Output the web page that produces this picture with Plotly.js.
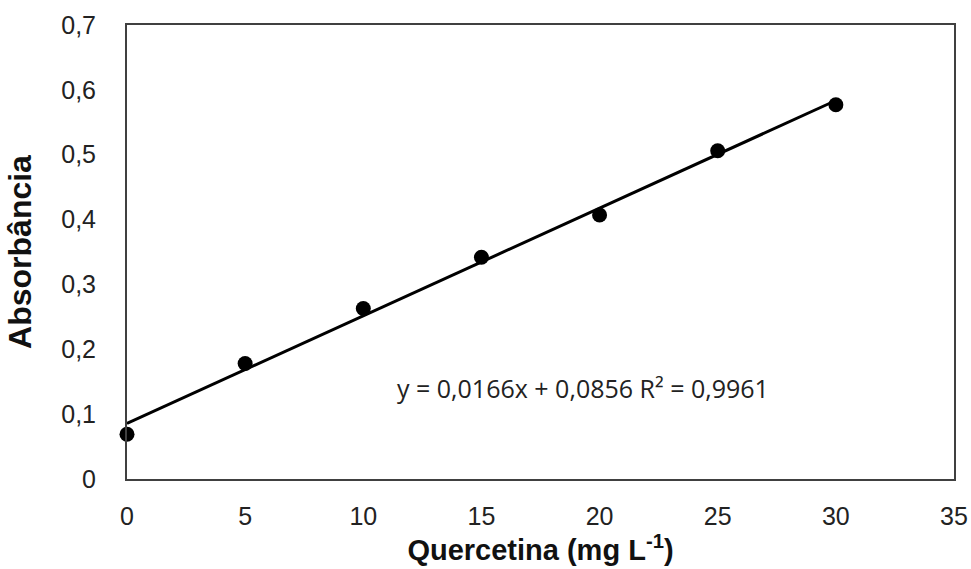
<!DOCTYPE html>
<html>
<head>
<meta charset="utf-8">
<script src="https://cdn.plot.ly/plotly-3.0.1.min.js"></script>
<style>html,body{margin:0;padding:0;background:#fff}#chart{width:971px;height:569px}</style>
</head>
<body>
<div id="chart"></div>
<script>
// Data
const concentration = [0, 5, 10, 15, 20, 25, 30];
const absorbance = [0.069, 0.178, 0.263, 0.342, 0.407, 0.506, 0.577];
const slope = 0.0166;
const intercept = 0.0856;
const fitRange = [0, 30];
const equationText = 'y = 0,0166x + 0,0856 R² = 0,9961';
const xTitle = 'Quercetina (mg L<sup>-1</sup>)';
const yTitle = 'Absorbância';

const fitY = fitRange.map(x => slope * x + intercept);

const traces = [
  {x: fitRange, y: fitY, mode: 'lines', line: {color: '#000', width: 3}, hoverinfo: 'skip'},
  {x: concentration, y: absorbance, mode: 'markers', marker: {color: '#000', size: 15}, cliponaxis: false}
];

const tickFont = {family: 'Liberation Sans, Arial, sans-serif', size: 25, color: '#222'};
const xTitleFont = {family: 'Liberation Sans, Arial, sans-serif', size: 29, color: '#111', weight: 'bold'};
const yTitleFont = {family: 'Liberation Sans, Arial, sans-serif', size: 32, color: '#111', weight: 'bold'};

const layout = {
  width: 971, height: 569,
  margin: {l: 127, r: 17, t: 25, b: 90},
  paper_bgcolor: '#fff', plot_bgcolor: '#fff',
  showlegend: false,
  separators: ', ',
  xaxis: {
    range: [0, 35], dtick: 5, tick0: 0,
    showgrid: false, zeroline: false,
    showline: true, mirror: true, linecolor: '#404040', linewidth: 2,
    ticks: '', ticklabelstandoff: 14,
    tickfont: tickFont,
    title: {text: xTitle, font: xTitleFont, standoff: 8}
  },
  yaxis: {
    range: [0, 0.7], dtick: 0.1, tick0: 0,
    showgrid: false, zeroline: false,
    showline: true, mirror: true, linecolor: '#404040', linewidth: 2,
    ticks: '', ticklabelstandoff: 24,
    tickfont: tickFont,
    title: {text: yTitle, font: yTitleFont, standoff: 20}
  },
  annotations: [{
    x: 0.551, y: 0.2, xref: 'paper', yref: 'paper',
    xanchor: 'center', yanchor: 'middle', showarrow: false,
    text: equationText,
    font: {family: 'Open Sans, sans-serif', size: 25, color: '#222'}
  }]
};

Plotly.newPlot('chart', traces, layout, {displayModeBar: false, staticPlot: true});
</script>
</body>
</html>
